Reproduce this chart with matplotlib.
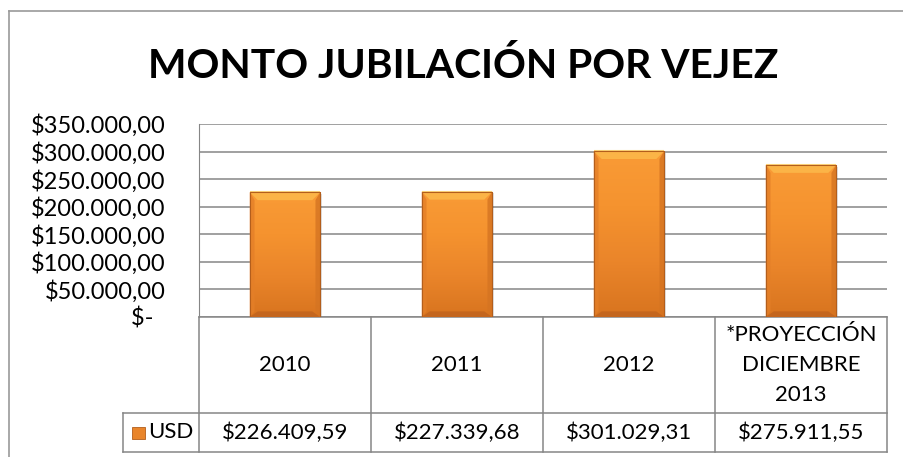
import numpy as np
import matplotlib
matplotlib.use("Agg")
import matplotlib.pyplot as plt
from matplotlib.patches import Polygon, Rectangle
from matplotlib.lines import Line2D
from matplotlib.transforms import blended_transform_factory
from matplotlib.colors import LinearSegmentedColormap

# ---------------------------------------------------------------------------
# data
# ---------------------------------------------------------------------------
TITLE = "MONTO JUBILACIÓN POR VEJEZ"
categories = ["2010", "2011", "2012", "*PROYECCIÓN\nDICIEMBRE\n2013"]
usd = [226409.59, 227339.68, 301029.31, 275911.55]
usd_labels = ["$226.409,59", "$227.339,68", "$301.029,31", "$275.911,55"]
series_name = "USD"
y_ticks = [0, 50000, 100000, 150000, 200000, 250000, 300000, 350000]
y_tick_labels = ["$-  ", "$50.000,00", "$100.000,00", "$150.000,00",
                 "$200.000,00", "$250.000,00", "$300.000,00", "$350.000,00"]

plt.rcParams["font.family"] = ["Lato", "DejaVu Sans"]

W, H = 904, 457
GRID = "#868686"
FRAME = "#9a9a9a"

fig = plt.figure(figsize=(W / 100, H / 100), dpi=100)

# chart outer frame (left + top only are visible in the crop)
fig.add_artist(Line2D([9 / W, 9 / W], [0, 1 - 11 / H], color=FRAME, lw=1.2))
fig.add_artist(Line2D([9 / W, 1], [1 - 11 / H, 1 - 11 / H], color=FRAME, lw=1.2))

fig.text(463 / W, 1 - 78 / H, TITLE, ha="center", va="baseline",
         fontsize=29.3, fontweight="bold", color="black")

# plot area
ax = fig.add_axes([199 / W, (H - 317) / H, (887 - 199) / W, 193 / H])
x = np.arange(len(categories))
ax.set_xlim(-0.5, len(categories) - 0.5)
ax.set_ylim(0, 350000)
ax.set_yticks(y_ticks)
ax.set_yticklabels(y_tick_labels, fontsize=17)
ax.tick_params(axis="y", length=0, pad=24)
ax.set_xticks([])
for s in ["top", "right", "bottom"]:
    ax.spines[s].set_visible(False)
ax.spines["left"].set_color(GRID)
ax.yaxis.grid(True, color=GRID, lw=1.1)
ax.set_axisbelow(True)

# bars with an Excel-like bevel
bw = 0.41
body = LinearSegmentedColormap.from_list(
    "body", ["#d8741f", "#ea852a", "#f5932f", "#f99b36"])
grad = np.linspace(0, 1, 256).reshape(-1, 1)
dx = 8 / 172                       # bevel size (8 px) in data units
dy = 8 / 193 * 350000
bars = ax.bar(x, usd, width=bw, color="#f09030", edgecolor="none", zorder=2)
for r in bars:
    x0, w, h = r.get_x(), r.get_width(), r.get_height()
    im = ax.imshow(grad, extent=[x0, x0 + w, 0, h], origin="lower",
                   cmap=body, aspect="auto", zorder=2.1)
    im.set_clip_path(r)
    # shadow
    ax.add_patch(Rectangle((x0 + 0.012, -3000), w, h, facecolor="#000000",
                           alpha=0.12, lw=0, zorder=1.9))
    top = Polygon([(x0, h), (x0 + w, h), (x0 + w - dx, h - dy), (x0 + dx, h - dy)],
                  facecolor="#fbb447", lw=0, zorder=2.2)
    bot = Polygon([(x0, 0), (x0 + w, 0), (x0 + w - dx, dy * 0.7), (x0 + dx, dy * 0.7)],
                  facecolor="#c4661e", lw=0, zorder=2.2)
    lft = Polygon([(x0, 0), (x0 + dx * 0.6, dy * 0.7), (x0 + dx * 0.6, h - dy), (x0, h)],
                  facecolor="#e47f28", lw=0, zorder=2.2, alpha=0.8)
    rgt = Polygon([(x0 + w, 0), (x0 + w - dx * 0.6, dy * 0.7), (x0 + w - dx * 0.6, h - dy), (x0 + w, h)],
                  facecolor="#d57422", lw=0, zorder=2.2, alpha=0.8)
    for p in (top, bot, lft, rgt):
        ax.add_patch(p)
    ax.plot([x0, x0 + w], [h, h], color="#fdd47a", lw=1.5, zorder=2.3,
            solid_capstyle="butt")
    ax.plot([x0, x0, x0 + w, x0 + w], [0, h, h, 0], color="#b35e1c", lw=0.8,
            zorder=2.4)

# data table below the plot area
tr = blended_transform_factory(ax.transData, ax.transAxes)
y1 = -96 / 193
y2 = -135 / 193
key_left = -0.5 - 76 / 172
lines = [
    ([-0.5, 3.5], [0, 0]),
    ([key_left, 3.5], [y1, y1]),
    ([key_left, 3.5], [y2, y2]),
    ([key_left, key_left], [y1, y2]),
    ([-0.5, -0.5], [0, y2]),
]
for b in np.arange(0.5, len(categories), 1.0):
    lines.append(([b, b], [0, y2]))
for xs, ys in lines:
    ax.add_line(Line2D(xs, ys, color=GRID, lw=1.1, transform=tr, clip_on=False))

for i, (c, v) in enumerate(zip(categories, usd_labels)):
    ax.text(i, y1 / 2, c, transform=tr, ha="center", va="center",
            fontsize=16, linespacing=1.62)
    ax.text(i, (y1 + y2) / 2, v, transform=tr, ha="center", va="center",
            fontsize=16)

# legend key inside the table
kx = key_left + 9 / 172
ax.add_patch(Rectangle((kx, y1 + (y2 - y1) * 0.36), 13 / 172, (y2 - y1) * 0.3,
                       transform=tr, clip_on=False, facecolor="#e9852b",
                       edgecolor="#b35e1c", lw=0.6))
ax.text(kx + 16 / 172, (y1 + y2) / 2, series_name, transform=tr,
        ha="left", va="center", fontsize=16)

fig.savefig("out.png", dpi=100)
